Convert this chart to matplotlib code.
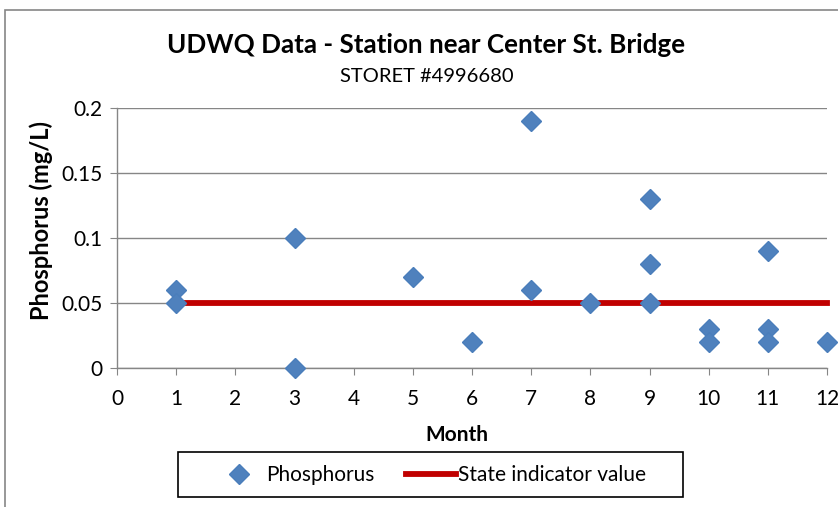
import matplotlib
matplotlib.use("Agg")
import matplotlib.pyplot as plt
from matplotlib.patches import Rectangle

months = [1, 1, 3, 3, 5, 6, 7, 7, 8, 9, 9, 9, 10, 10, 11, 11, 11, 12]
phosphorus = [0.06, 0.05, 0.10, 0.0, 0.07, 0.02, 0.19, 0.06, 0.05,
              0.13, 0.08, 0.05, 0.03, 0.02, 0.09, 0.03, 0.02, 0.02]
indicator_months = [1, 12]
indicator_values = [0.05, 0.05]
x_ticks = list(range(0, 13))
y_ticks = [0, 0.05, 0.1, 0.15, 0.2]
y_tick_labels = ["0", "0.05", "0.1", "0.15", "0.2"]

plt.rcParams['font.family'] = ['Lato', 'DejaVu Sans']

W, H = 838, 507
fig = plt.figure(figsize=(W / 100, H / 100), dpi=100)
ax = fig.add_axes([117 / W, 1 - 368 / H, (827 - 117) / W, (368 - 108) / H])

grid_c = '#868686'
ax.set_xlim(0, 12)
ax.set_ylim(0, 0.2)
ax.set_yticks(y_ticks)
ax.set_yticklabels(y_tick_labels)
ax.set_xticks(x_ticks)
ax.yaxis.grid(True, color=grid_c, linewidth=1)
ax.set_axisbelow(True)
for s in ['top', 'right']:
    ax.spines[s].set_visible(False)
for s in ['left', 'bottom']:
    ax.spines[s].set_color(grid_c)
    ax.spines[s].set_linewidth(1)
ax.tick_params(axis='both', direction='out', length=5, color=grid_c,
               labelsize=15, labelcolor='black')
ax.tick_params(axis='x', pad=10)
ax.tick_params(axis='y', pad=5.5)

line, = ax.plot(indicator_months, indicator_values, color='#C00000', linewidth=4.2,
                label='State indicator value', zorder=2, clip_on=False)
pts, = ax.plot(months, phosphorus, linestyle='none', marker='D', markersize=10,
               color='#4F81BD', markeredgecolor='#4A7EBB', label='Phosphorus',
               zorder=3, clip_on=False)

ax.set_xlabel('Month', fontsize=15, fontweight='bold')
ax.xaxis.label.set_va('center')
ax.xaxis.set_label_coords((457 - 117) / 710, (368 - 435) / 260)
ax.set_ylabel('Phosphorus (mg/L)', fontsize=17, fontweight='bold')
ax.yaxis.label.set_va('center')
ax.yaxis.set_label_coords((41 - 117) / 710, (368 - 221) / 260)

fig.text(426.5 / W, 1 - 45 / H, 'UDWQ Data - Station near Center St. Bridge',
         ha='center', va='center', fontsize=18.7, fontweight='bold')
fig.text(426.5 / W, 1 - 77 / H, 'STORET #4996680', ha='center', va='center',
         fontsize=14.5)

leg = fig.legend(handles=[pts, line], loc='center',
                 bbox_to_anchor=(430 / W, 1 - 475 / H), ncol=2, fontsize=15,
                 frameon=False, handlelength=2.4, columnspacing=1.5,
                 handletextpad=0.1, borderpad=0.3)

fig.patches.append(Rectangle((178 / W, 1 - 497 / H), (683 - 178) / W, 45 / H,
                             transform=fig.transFigure, fill=False,
                             edgecolor='black', linewidth=1.2))
fig.patches.append(Rectangle((5 / W, -0.1), 1.2, 1 - 10 / H + 0.1,
                             transform=fig.transFigure, fill=False,
                             edgecolor='#868686', linewidth=1.2))

fig.savefig('out.png', dpi=100)
